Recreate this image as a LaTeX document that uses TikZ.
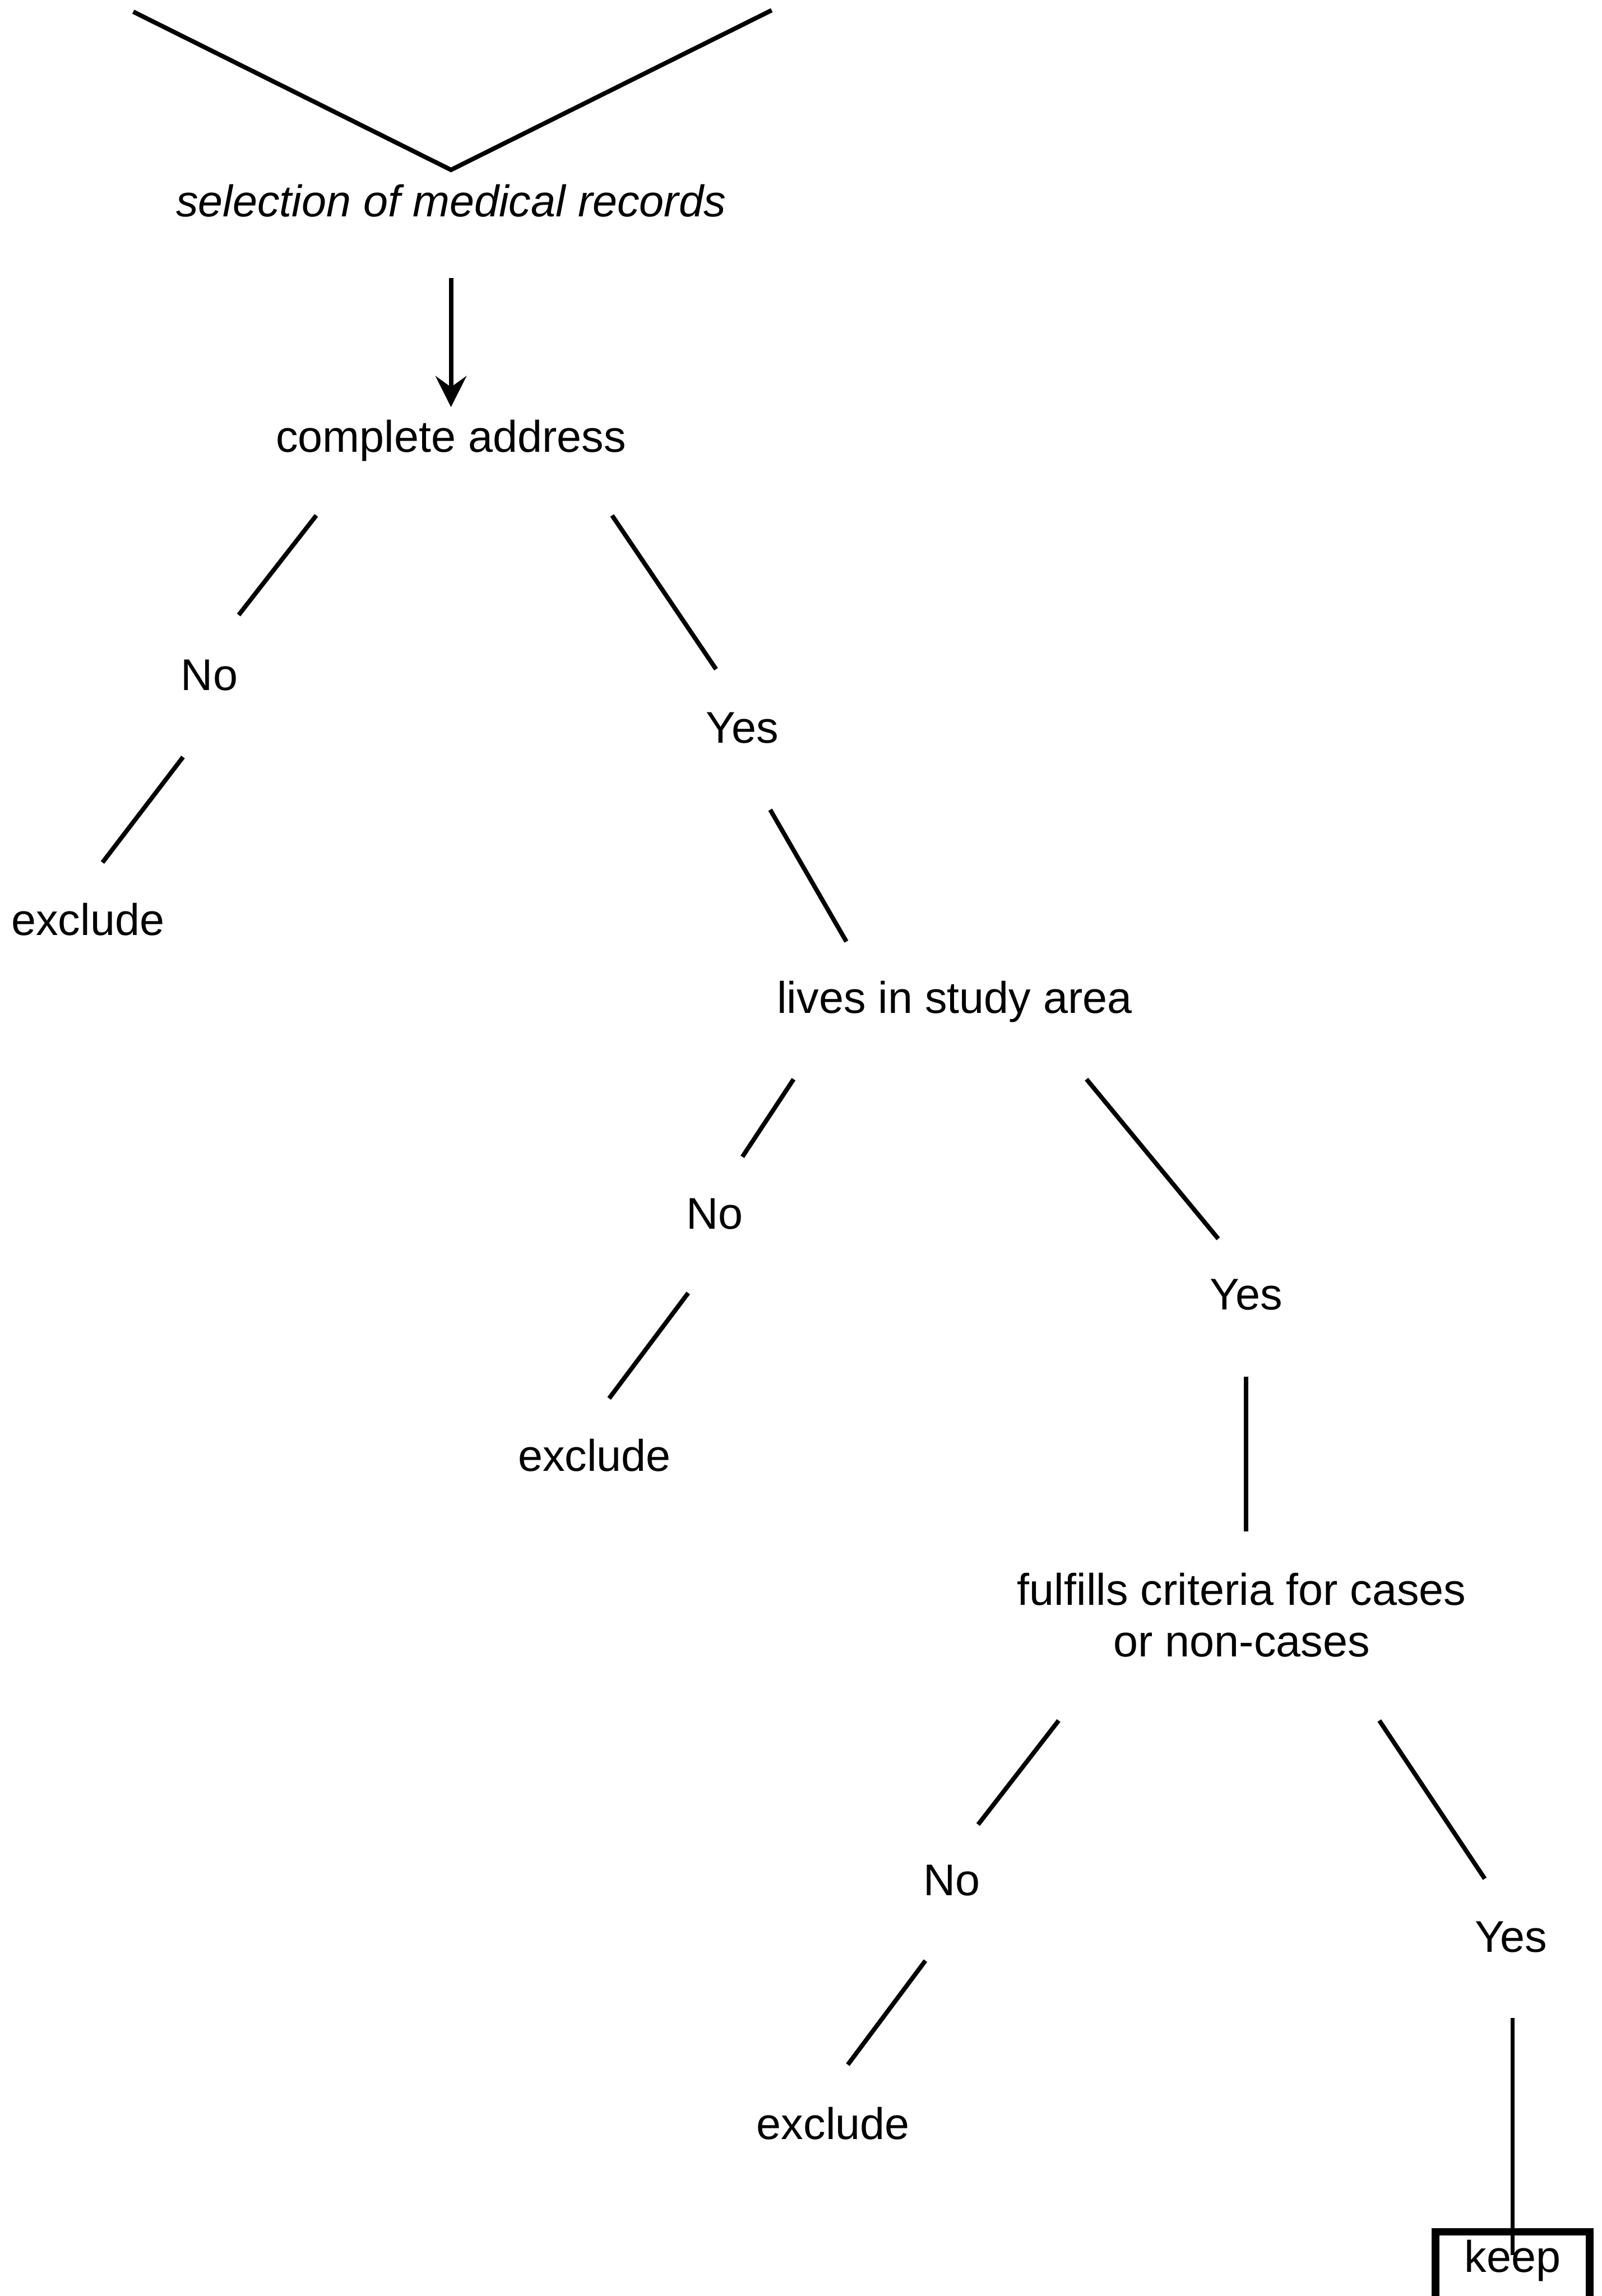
\documentclass[tikz,border=0pt]{standalone}
\usepackage{fontspec}
\setmainfont{Liberation Sans}
\usetikzlibrary{arrows.meta}

\begin{document}
\begin{tikzpicture}[x=0.33pt,y=-0.33pt,line width=1pt,
  every node/.style={inner sep=0pt,font=\fontsize{10}{11.6}\selectfont},
  keepbox/.style={draw,line width=1.7pt,minimum width=34.7pt,minimum height=17.2pt,text height=7pt,text depth=6pt}]
\useasboundingbox (0,0) rectangle (1094,1568);
\node (sel) at (308,137) {\itshape selection of medical records};
\node (addr) at (308,301) {complete address};
\node (no1) at (143,461) {No};
\node (exc1) at (60,628) {exclude};
\node (yes1) at (507,497) {Yes};
\node (area) at (652,684) {lives in study area};
\node (no2) at (488,829) {No};
\node (exc2) at (406,994) {exclude};
\node (yes2) at (851,884) {Yes};
\node[align=center] (crit) at (848,1103) {fulfills criteria for cases\\or non-cases};
\node (no3) at (650,1284) {No};
\node (exc3) at (569,1450) {exclude};
\node (yes3) at (1032,1323) {Yes};
\node[keepbox,anchor=north] (keep) at (1033,1521.5) {keep};
\coordinate (vl) at (91,8);
\coordinate (vt) at (308,116);
\coordinate (vr) at (527,7);
\coordinate (sa) at (308,190);
\coordinate (sb) at (308,278);
\coordinate (a1) at (216,352);
\coordinate (a2) at (163,420);
\coordinate (b1) at (125,517);
\coordinate (b2) at (70,589);
\coordinate (c1) at (418,352);
\coordinate (c2) at (489,457);
\coordinate (d1) at (526,553);
\coordinate (d2) at (578,643);
\coordinate (e1) at (542,737);
\coordinate (e2) at (507,790);
\coordinate (f1) at (470,883);
\coordinate (f2) at (416,955);
\coordinate (g1) at (742,737);
\coordinate (g2) at (832,846);
\coordinate (h1) at (851,940);
\coordinate (h2) at (851,1046);
\coordinate (i1) at (723,1175);
\coordinate (i2) at (668,1246);
\coordinate (j1) at (632,1339);
\coordinate (j2) at (579,1410);
\coordinate (k1) at (942,1175);
\coordinate (k2) at (1014,1283);
\coordinate (m1) at (1033,1378);
\coordinate (m2) at (1033,1540);
\draw (vl) -- (vt) -- (vr);
\draw [-{Stealth[length=7pt,width=7pt,inset=2.5pt]}] (sa) -- (sb);
\draw (a1) -- (a2);
\draw (b1) -- (b2);
\draw (c1) -- (c2);
\draw (d1) -- (d2);
\draw (e1) -- (e2);
\draw (f1) -- (f2);
\draw (g1) -- (g2);
\draw (h1) -- (h2);
\draw (i1) -- (i2);
\draw (j1) -- (j2);
\draw (k1) -- (k2);
\draw (m1) -- (m2);
\end{tikzpicture}
\end{document}
